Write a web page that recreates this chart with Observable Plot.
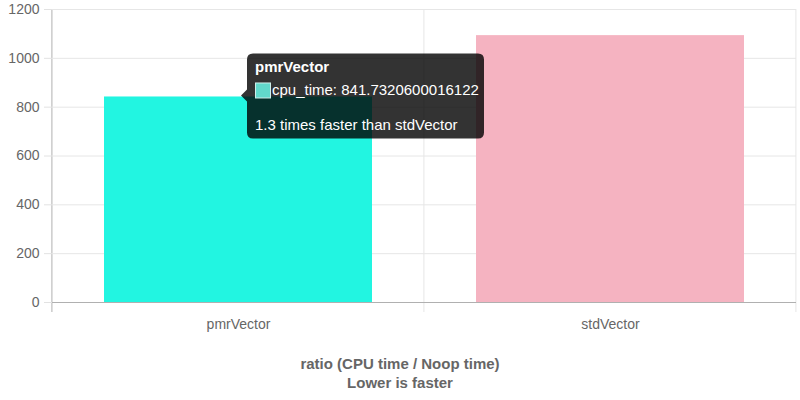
<!DOCTYPE html>
<html>
<head>
<meta charset="utf-8">
<script src="https://cdn.jsdelivr.net/npm/d3@7"></script>
<script src="https://cdn.jsdelivr.net/npm/@observablehq/plot@0.6"></script>
<style>
  html, body { margin: 0; padding: 0; background: #fff; }
  body { width: 800px; height: 400px; overflow: hidden; font-family: "Liberation Sans", Arial, sans-serif; }
  #chart svg { display: block; }
  [aria-label^="y-axis"] line, [aria-label="y-axis tick"] path { stroke: #e2e2e2; stroke-opacity: 1; }
  #title { text-align: center; color: #666; font-weight: bold; font-size: 15px; line-height: 19px; margin-top: 14px; }
</style>
</head>
<body>
<div id="chart"></div>
<div id="title">ratio (CPU time / Noop time)<br>Lower is faster</div>
<script>
const categories = ["pmrVector", "stdVector"];
const cpuTime = [841.7320600016122, 1093];
const colors = ["#22f5e1", "#f5b3c1"];
const yTicks = [0, 200, 400, 600, 800, 1000, 1200];
const tooltipTitle = "pmrVector";
const tooltipBody = "cpu_time: 841.7320600016122";
const tooltipFooter = "1.3 times faster than stdVector";

const data = categories.map((c, i) => ({category: c, value: cpuTime[i], color: colors[i]}));

const plot = Plot.plot({
  width: 800,
  height: 340,
  marginTop: 9,
  marginBottom: 38,
  marginLeft: 52,
  marginRight: 4,
  style: {fontFamily: "'Liberation Sans', Arial, sans-serif", fontSize: "14px", color: "#666", background: "#fff"},
  x: {domain: categories, paddingInner: 0.28, paddingOuter: 0.14, label: null, tickSize: 0, tickPadding: 17},
  y: {domain: [0, 1200], ticks: yTicks, label: null, tickSize: 8, tickPadding: 5, tickFormat: d => String(d)},
  marks: [
    Plot.ruleY(yTicks, {stroke: "#e6e6e6"}),
    Plot.barY(data, {x: "category", y: "value", fill: "color"}),
    Plot.ruleY([0], {stroke: "#b0b0b0"})
  ]
});
document.getElementById("chart").appendChild(plot);

// category boundary grid lines and axis line, derived from the scales
const xs = plot.scale("x");
const ys = plot.scale("y");
const svg = d3.select(plot);
const step = xs.step;
const x0 = xs.apply(categories[0]) - step * xs.paddingOuter;
const yTop = ys.apply(1200);
const yBot = ys.apply(0);
const gGrid = svg.insert("g", ":first-child").attr("aria-label", "x-grid");
for (let i = 0; i <= categories.length; i++) {
  const gx = x0 + i * step;
  gGrid.append("line")
    .attr("x1", gx).attr("x2", gx)
    .attr("y1", yTop).attr("y2", yBot + 10)
    .attr("stroke", i === 0 ? "#b0b0b0" : "#e6e6e6");
}

// tooltip anchored to the pmrVector bar
const idx = categories.indexOf(tooltipTitle);
const ax = xs.apply(categories[idx]) + xs.bandwidth / 2 + 3;
const ay = ys.apply(cpuTime[idx]) - 1;
const bx = ax + 6, by = ay - 42, bw = 237, bh = 85;
const tip = svg.append("g").attr("aria-label", "tooltip").attr("text-anchor", "start")
  .attr("font-family", "'Liberation Sans', Arial, sans-serif");
tip.append("path")
  .attr("d", `M${bx + 6},${by} H${bx + bw - 6} Q${bx + bw},${by} ${bx + bw},${by + 6} V${by + bh - 6} Q${bx + bw},${by + bh} ${bx + bw - 6},${by + bh} H${bx + 6} Q${bx},${by + bh} ${bx},${by + bh - 6} V${ay + 6} L${ax},${ay} L${bx},${ay - 6} V${by + 6} Q${bx},${by} ${bx + 6},${by} Z`)
  .attr("fill", "rgba(0,0,0,0.8)");
tip.append("text").attr("x", bx + 8).attr("y", by + 19).attr("text-anchor", "start")
  .attr("fill", "#fff").attr("font-weight", "bold").attr("font-size", 15)
  .text(tooltipTitle);
tip.append("rect").attr("x", bx + 8.5).attr("y", by + 29.5).attr("width", 15).attr("height", 15)
  .attr("fill", "#62d8cb").attr("stroke", "#cfeeea").attr("stroke-width", 1);
tip.append("text").attr("x", bx + 25).attr("y", by + 42).attr("text-anchor", "start")
  .attr("fill", "#fff").attr("font-size", 15)
  .text(tooltipBody);
tip.append("text").attr("x", bx + 8).attr("y", by + 77).attr("text-anchor", "start")
  .attr("fill", "#fff").attr("font-size", 15)
  .text(tooltipFooter);
</script>
</body>
</html>
